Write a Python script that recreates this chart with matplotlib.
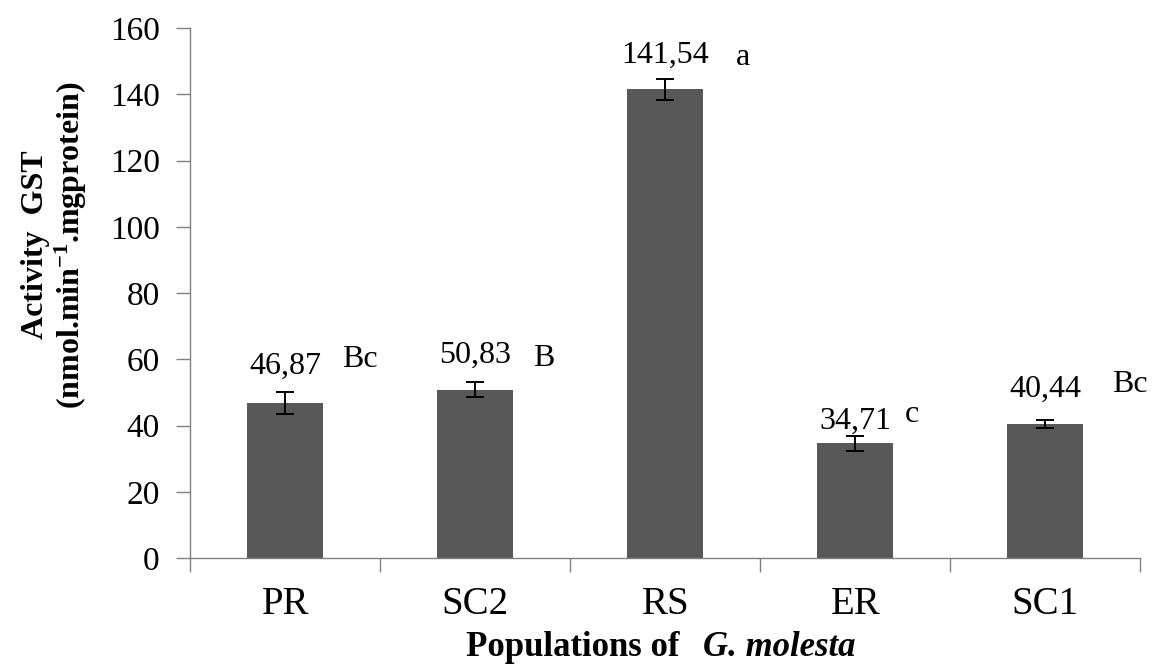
"""GST activity by population of G. molesta (bar chart with SE and letters)."""
import matplotlib

matplotlib.use('Agg')
import matplotlib.pyplot as plt
import numpy as np

# data
populations = ['PR', 'SC2', 'RS', 'ER', 'SC1']
gst_mean = [46.87, 50.83, 141.54, 34.71, 40.44]
gst_err = [3.2, 2.3, 3.2, 2.3, 1.2]
value_labels = ['46,87', '50,83', '141,54', '34,71', '40,44']
letters = ['Bc', 'B', 'a', 'c', 'Bc']

# layout (pixel offsets from the top of each error bar)
value_dy = [26, 27, 23, 14, 31]
letter_dx = [75, 68, 78, 57, 85]
letter_dy = [33, 24, 21, 21, 36]

SERIF = ['Liberation Serif', 'DejaVu Serif']
plt.rcParams['font.family'] = SERIF
plt.rcParams['mathtext.fontset'] = 'custom'
plt.rcParams['mathtext.rm'] = 'Liberation Serif'
plt.rcParams['mathtext.bf'] = 'Liberation Serif:bold'
plt.rcParams['mathtext.it'] = 'Liberation Serif:italic'

fig = plt.figure(figsize=(11.53, 6.71), dpi=100)
ax = fig.add_axes([0.165, 0.168, 0.824, 0.79])

x = np.arange(len(populations))
ax.bar(x, gst_mean, width=0.4, color='#585858', zorder=2)
ax.errorbar(x, gst_mean, yerr=gst_err, fmt='none', ecolor='black',
            elinewidth=1.4, capsize=6.5, capthick=1.4, zorder=3)

for i in range(len(x)):
    top = gst_mean[i] + gst_err[i]
    ax.annotate(value_labels[i], (x[i], top), xytext=(0, value_dy[i]),
                textcoords='offset pixels', ha='center', va='center',
                fontsize=23)
    ax.annotate(letters[i], (x[i], top), xytext=(letter_dx[i], letter_dy[i]),
                textcoords='offset pixels', ha='center', va='center',
                fontsize=23)

ax.set_xlim(-0.5, len(x) - 0.5)
ax.set_ylim(0, 160)
ax.set_yticks(np.arange(0, 161, 20))
ax.set_xticks(x)
ax.set_xticklabels(populations)
ax.set_xticks(np.arange(-0.5, len(x), 1.0), minor=True)
ax.tick_params(axis='x', which='major', length=0, pad=20, labelsize=28)
ax.tick_params(axis='x', which='minor', length=10, color='#808080', width=1)
ax.tick_params(axis='y', length=10, color='#808080', width=1, pad=12,
               labelsize=24)

for side in ['top', 'right']:
    ax.spines[side].set_visible(False)
for side in ['left', 'bottom']:
    ax.spines[side].set_color('#808080')
    ax.spines[side].set_linewidth(1)

# axis titles
fig.text(55 / 1153, 1 - 245 / 671,
         'Activity  GST\n(nmol.min$^{\\mathbf{-1}}$.mgprotein)',
         rotation=90, ha='center', va='center', ma='center',
         fontsize=23, fontweight='bold', linespacing=1.1)
fig.text(680 / 1153, 1 - 648 / 671, 'Populations of',
         ha='right', va='center', fontsize=25, fontweight='bold')
fig.text(703 / 1153, 1 - 648 / 671, 'G. molesta',
         ha='left', va='center', fontsize=25, fontweight='bold',
         fontstyle='italic')

fig.savefig('out.png', dpi=100)
